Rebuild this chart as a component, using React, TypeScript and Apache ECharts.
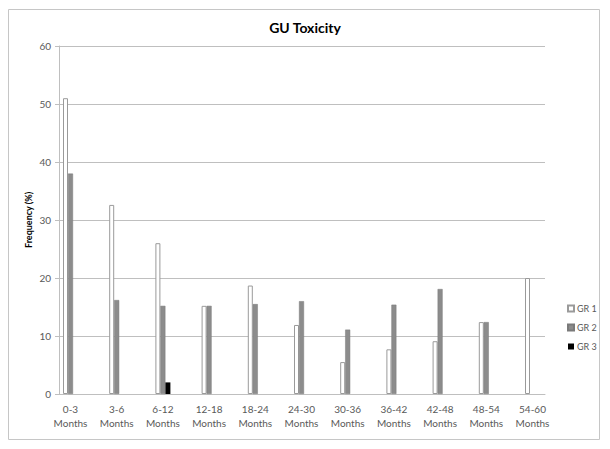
import React, { useEffect, useRef } from "react";
import * as echarts from "echarts";

const categories = [
  "0-3\nMonths",
  "3-6\nMonths",
  "6-12\nMonths",
  "12-18\nMonths",
  "18-24\nMonths",
  "24-30\nMonths",
  "30-36\nMonths",
  "36-42\nMonths",
  "42-48\nMonths",
  "48-54\nMonths",
  "54-60\nMonths",
];
const gr1 = [51, 32.6, 26, 15.2, 18.7, 11.9, 5.5, 7.7, 9.1, 12.4, 20];
const gr2 = [38, 16.2, 15.2, 15.2, 15.5, 16, 11.1, 15.4, 18.1, 12.4, null];
const gr3 = [null, null, 2, null, null, null, null, null, null, null, null];
const yTicks = { min: 0, max: 60, interval: 10 };

const FONT = "Lato, 'Open Sans', sans-serif";

export default function App() {
  const ref = useRef<HTMLDivElement>(null);
  useEffect(() => {
    if (!ref.current) return;
    const chart = echarts.init(ref.current, null, { renderer: "svg" });
    chart.setOption({
      animation: false,
      backgroundColor: "#ffffff",
      textStyle: { fontFamily: FONT },
      title: {
        text: "GU Toxicity",
        left: "center",
        top: 15,
        textStyle: { fontFamily: FONT, fontSize: 14, fontWeight: "bold", color: "#000" },
      },
      graphic: [
        {
          type: "rect",
          shape: { x: 8.5, y: 9.5, width: 591, height: 430 },
          style: { fill: "none", stroke: "#c6c6c6", lineWidth: 1 },
          silent: true,
        },
      ],
      legend: {
        orient: "vertical",
        left: 562,
        top: 299,
        itemWidth: 6,
        itemHeight: 6,
        itemGap: 10,
        icon: "rect",
        textStyle: { fontFamily: FONT, fontSize: 9, color: "#595959", padding: [0, 0, 0, -2] },
        data: ["GR 1", "GR 2", "GR 3"],
      },
      grid: [
        { left: 59, right: 65, top: 46, bottom: 55 },
        { left: 47.4, right: 54.4, top: 46, bottom: 55 },
      ],
      xAxis: [
        {
          gridIndex: 0,
          type: "category",
          data: categories,
          axisLine: { show: true, lineStyle: { color: "#bfbfbf" } },
          axisTick: { show: false },
          axisLabel: { show: false },
        },
        {
          gridIndex: 1,
          type: "category",
          data: categories,
          axisLine: { show: false },
          axisTick: { show: false },
          axisLabel: {
            margin: 8,
            fontFamily: FONT,
            fontSize: 10,
            lineHeight: 14,
            color: "#595959",
            interval: 0,
          },
        },
      ],
      yAxis: [
        {
          gridIndex: 0,
          type: "value",
          min: yTicks.min,
          max: yTicks.max,
          interval: yTicks.interval,
          name: "Frequency (%)",
          nameLocation: "middle",
          nameGap: 26,
          nameMoveOverlap: false,
          nameTextStyle: { fontFamily: FONT, fontSize: 9, fontWeight: "bold", color: "#000" },
          axisLine: { show: true, lineStyle: { color: "#bfbfbf" } },
          axisTick: { show: true, length: 4, lineStyle: { color: "#bfbfbf" } },
          axisLabel: { fontFamily: FONT, fontSize: 10, color: "#595959", margin: 8 },
          splitLine: { show: true, lineStyle: { color: "#bfbfbf" } },
        },
        {
          gridIndex: 1,
          type: "value",
          min: yTicks.min,
          max: yTicks.max,
          interval: yTicks.interval,
          show: false,
          splitLine: { show: false },
        },
      ],
      series: [
        {
          name: "GR 1",
          type: "bar",
          xAxisIndex: 1,
          yAxisIndex: 1,
          data: gr1,
          barWidth: 5,
          barGap: "0%",
          itemStyle: { color: "#ffffff", borderColor: "#9a9a9a", borderWidth: 1 },
        },
        {
          name: "GR 2",
          type: "bar",
          xAxisIndex: 1,
          yAxisIndex: 1,
          data: gr2,
          barWidth: 5,
          barGap: "0%",
          itemStyle: { color: "#8c8c8c", borderColor: "#7a7a7a", borderWidth: 0.5 },
        },
        {
          name: "GR 3",
          type: "bar",
          xAxisIndex: 1,
          yAxisIndex: 1,
          data: gr3,
          barWidth: 5,
          barGap: "0%",
          itemStyle: { color: "#000000" },
        },
      ],
    });
    return () => chart.dispose();
  }, []);
  return (
    <div
      ref={ref}
      style={{ position: "fixed", left: 0, top: 0, width: 610, height: 449, background: "#fff" }}
    />
  );
}
